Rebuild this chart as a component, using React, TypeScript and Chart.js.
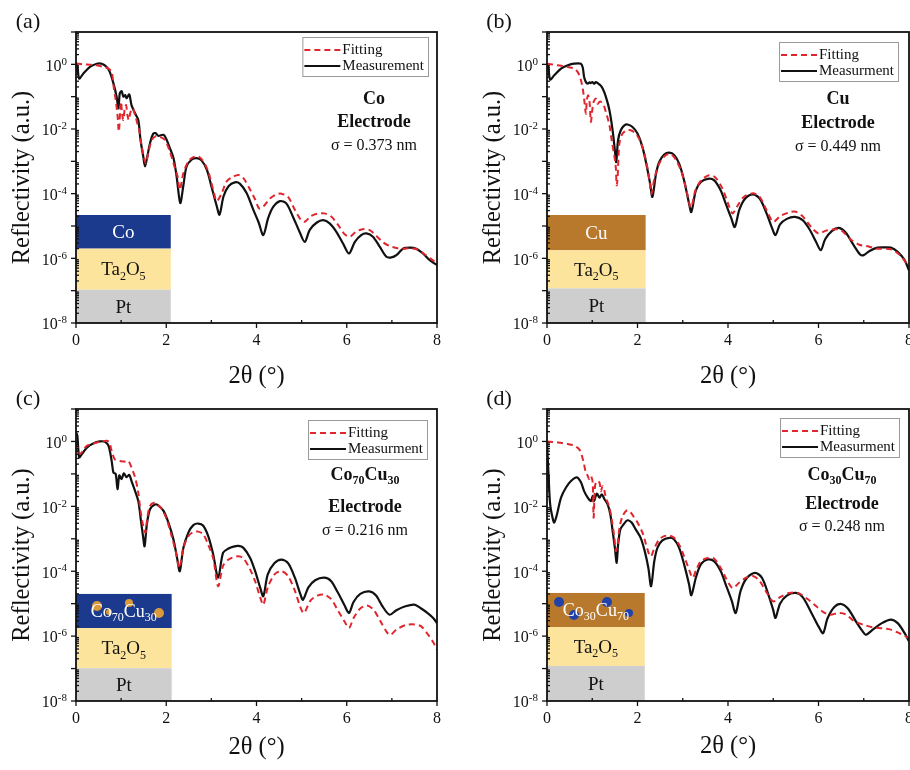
import React, { useEffect, useRef } from 'react';
import { Chart, registerables } from 'chart.js';
Chart.register(...registerables);

// ---------- DATA: [2θ (°), log10(reflectivity)] ----------
const aMeasurement: [number, number][] = [
  [0.0, 0.02], [0.03, -0.05], [0.07, -0.44], [0.16, -0.29], [0.31, -0.08], [0.46, 0.02], [0.57, 0.02],
  [0.68, -0.08], [0.75, -0.24], [0.83, -0.59], [0.9, -1.0], [0.94, -1.36], [0.97, -0.9], [1.01, -0.83],
  [1.05, -1.0], [1.09, -0.95], [1.12, -1.05], [1.18, -0.93], [1.23, -1.26], [1.31, -1.52], [1.38, -1.72],
  [1.43, -2.34], [1.49, -2.85], [1.53, -3.16], [1.58, -2.85], [1.64, -2.44], [1.71, -2.15], [1.77, -2.13],
  [1.82, -2.21], [1.94, -2.18], [2.01, -2.34], [2.08, -2.59], [2.16, -2.9], [2.23, -3.47], [2.31, -4.29],
  [2.38, -3.74], [2.45, -3.16], [2.56, -2.95], [2.67, -2.9], [2.78, -2.97], [2.9, -3.26], [3.0, -3.77],
  [3.12, -4.39], [3.18, -4.65], [3.27, -4.08], [3.38, -3.77], [3.52, -3.65], [3.63, -3.69], [3.78, -3.98],
  [3.93, -4.5], [4.05, -4.9], [4.15, -5.28], [4.26, -4.75], [4.37, -4.41], [4.52, -4.23], [4.66, -4.3],
  [4.81, -4.72], [4.96, -5.2], [5.07, -5.49], [5.18, -5.12], [5.33, -4.9], [5.48, -4.82], [5.62, -4.92],
  [5.77, -5.18], [5.92, -5.55], [6.05, -5.85], [6.18, -5.49], [6.32, -5.28], [6.44, -5.23], [6.58, -5.33],
  [6.73, -5.64], [6.88, -5.95], [6.99, -5.97], [7.1, -5.9], [7.25, -5.7], [7.4, -5.67], [7.54, -5.7],
  [7.69, -5.85], [7.84, -6.06], [8.0, -6.21],
];
const aFitting: [number, number][] = [
  [0.0, 0.03], [0.16, 0.0], [0.31, -0.01], [0.46, -0.03], [0.61, -0.08], [0.72, -0.13], [0.79, -0.24],
  [0.84, -0.75], [0.88, -1.1], [0.92, -1.57], [0.95, -2.08], [0.98, -1.42], [1.0, -1.16], [1.02, -1.52],
  [1.05, -1.72], [1.08, -1.37], [1.11, -1.26], [1.14, -1.57], [1.17, -1.72], [1.21, -1.47], [1.26, -1.36],
  [1.31, -1.57], [1.36, -1.83], [1.4, -2.03], [1.45, -2.49], [1.51, -2.9], [1.55, -3.06], [1.6, -2.75],
  [1.68, -2.34], [1.77, -2.22], [1.86, -2.24], [1.97, -2.34], [2.08, -2.7], [2.19, -3.2], [2.25, -3.46],
  [2.3, -3.88], [2.38, -3.36], [2.49, -3.0], [2.6, -2.87], [2.71, -2.85], [2.82, -3.0], [2.93, -3.31],
  [3.04, -3.88], [3.12, -4.23], [3.23, -3.98], [3.34, -3.62], [3.49, -3.47], [3.6, -3.42], [3.71, -3.52],
  [3.86, -3.88], [3.97, -4.18], [4.06, -4.46], [4.15, -4.4], [4.3, -4.15], [4.45, -4.02], [4.55, -4.0],
  [4.7, -4.1], [4.85, -4.5], [4.98, -4.8], [5.07, -4.87], [5.2, -4.7], [5.35, -4.62], [5.5, -4.61],
  [5.65, -4.7], [5.8, -4.95], [5.95, -5.25], [6.07, -5.33], [6.2, -5.18], [6.35, -5.1], [6.5, -5.12],
  [6.65, -5.3], [6.8, -5.5], [6.95, -5.62], [7.1, -5.68], [7.25, -5.7], [7.4, -5.69], [7.55, -5.72],
  [7.7, -5.85], [7.85, -6.0], [8.0, -6.16],
];

const bMeasurement: [number, number][] = [
  [0.0, 0.02], [0.03, -0.1], [0.07, -0.47], [0.16, -0.34], [0.31, -0.13], [0.46, -0.03], [0.6, 0.02],
  [0.75, 0.02], [0.79, -0.1], [0.82, -0.39], [0.86, -0.55], [0.9, -0.6], [0.94, -0.56], [0.97, -0.58],
  [1.0, -0.55], [1.04, -0.6], [1.08, -0.55], [1.12, -0.58], [1.18, -0.65], [1.23, -0.75], [1.3, -1.0],
  [1.38, -1.42], [1.45, -2.04], [1.5, -2.66], [1.53, -3.02], [1.57, -2.35], [1.63, -2.04], [1.71, -1.89],
  [1.78, -1.86], [1.89, -1.94], [2.0, -2.14], [2.11, -2.56], [2.21, -3.18], [2.28, -3.7], [2.33, -4.1],
  [2.41, -3.38], [2.48, -3.02], [2.59, -2.79], [2.7, -2.73], [2.81, -2.8], [2.92, -3.07], [3.03, -3.59],
  [3.14, -4.31], [3.19, -4.57], [3.29, -3.9], [3.4, -3.64], [3.55, -3.54], [3.69, -3.58], [3.84, -3.9],
  [3.95, -4.31], [4.07, -4.75], [4.15, -5.03], [4.25, -4.5], [4.38, -4.15], [4.55, -4.02], [4.7, -4.15],
  [4.85, -4.6], [4.97, -5.05], [5.05, -5.28], [5.15, -4.95], [5.3, -4.78], [5.48, -4.72], [5.65, -4.82],
  [5.8, -5.1], [5.95, -5.5], [6.05, -5.75], [6.15, -5.4], [6.3, -5.15], [6.45, -5.06], [6.6, -5.2],
  [6.78, -5.6], [6.92, -5.88], [7.0, -5.9], [7.12, -5.78], [7.3, -5.67], [7.45, -5.66], [7.6, -5.67],
  [7.75, -5.8], [7.9, -6.05], [8.0, -6.37],
];
const bFitting: [number, number][] = [
  [0.0, 0.02], [0.24, -0.03], [0.46, -0.08], [0.6, -0.13], [0.68, -0.24], [0.74, -0.44], [0.79, -0.75],
  [0.82, -1.06], [0.86, -1.53], [0.88, -1.11], [0.91, -0.96], [0.94, -1.16], [0.97, -1.78], [1.0, -1.42],
  [1.03, -1.16], [1.08, -1.06], [1.12, -1.22], [1.16, -1.16], [1.19, -1.16], [1.25, -1.26], [1.3, -1.47],
  [1.38, -1.88], [1.43, -2.35], [1.49, -2.85], [1.52, -3.18], [1.54, -3.74], [1.56, -3.5], [1.6, -2.45],
  [1.67, -2.14], [1.77, -2.04], [1.85, -2.04], [1.96, -2.14], [2.07, -2.4], [2.18, -2.93], [2.26, -3.55],
  [2.31, -4.01], [2.37, -3.55], [2.48, -3.07], [2.59, -2.85], [2.7, -2.77], [2.81, -2.87], [2.96, -3.28],
  [3.07, -3.82], [3.18, -4.43], [3.28, -3.9], [3.4, -3.6], [3.58, -3.43], [3.72, -3.5], [3.88, -3.85],
  [4.0, -4.3], [4.1, -4.61], [4.2, -4.4], [4.35, -4.1], [4.55, -3.99], [4.7, -4.1], [4.85, -4.5],
  [5.0, -4.87], [5.15, -4.7], [5.35, -4.58], [5.5, -4.56], [5.65, -4.7], [5.85, -5.05], [6.0, -5.23],
  [6.15, -5.15], [6.35, -5.1], [6.5, -5.13], [6.7, -5.4], [6.9, -5.58], [7.05, -5.62], [7.3, -5.7],
  [7.6, -5.72], [7.8, -5.9], [8.0, -6.26],
];

const cMeasurement: [number, number][] = [
  [0.0, 0.28], [0.03, 0.18], [0.07, -0.49], [0.13, -0.39], [0.24, -0.19], [0.38, -0.06], [0.53, 0.0],
  [0.64, -0.01], [0.72, -0.13], [0.79, -0.6], [0.83, -0.96], [0.88, -1.0], [0.92, -1.47], [0.96, -1.05],
  [1.01, -1.16], [1.06, -0.98], [1.12, -1.1], [1.18, -1.03], [1.23, -1.22], [1.31, -1.53], [1.38, -1.84],
  [1.44, -2.45], [1.49, -2.97], [1.52, -3.23], [1.57, -2.56], [1.64, -2.09], [1.75, -1.94], [1.82, -1.97],
  [1.94, -2.14], [2.05, -2.51], [2.16, -3.02], [2.24, -3.59], [2.3, -4.0], [2.38, -3.28], [2.49, -2.81],
  [2.6, -2.58], [2.71, -2.53], [2.82, -2.6], [2.93, -2.92], [3.04, -3.48], [3.15, -4.2], [3.26, -3.43],
  [3.38, -3.3], [3.49, -3.24], [3.6, -3.22], [3.71, -3.28], [3.86, -3.59], [3.97, -4.0], [4.08, -4.5],
  [4.15, -4.77], [4.25, -4.1], [4.4, -3.75], [4.55, -3.64], [4.7, -3.75], [4.85, -4.2], [4.97, -4.7],
  [5.03, -4.88], [5.15, -4.5], [5.3, -4.28], [5.5, -4.2], [5.65, -4.3], [5.8, -4.65], [5.95, -5.05],
  [6.05, -5.29], [6.15, -4.95], [6.3, -4.7], [6.5, -4.62], [6.65, -4.75], [6.8, -5.1], [6.95, -5.34],
  [7.1, -5.2], [7.3, -5.08], [7.5, -5.03], [7.65, -5.15], [7.8, -5.3], [7.92, -5.45], [8.0, -5.6],
];
const cFitting: [number, number][] = [
  [0.0, -0.03], [0.04, -0.2], [0.09, -0.39], [0.16, -0.27], [0.24, -0.13], [0.31, -0.1], [0.46, -0.03],
  [0.57, 0.0], [0.68, 0.02], [0.74, -0.03], [0.79, -0.29], [0.86, -0.55], [0.97, -0.6], [1.09, -0.62],
  [1.16, -0.6], [1.23, -0.8], [1.31, -1.11], [1.38, -1.58], [1.43, -2.14], [1.49, -2.61], [1.54, -2.81],
  [1.58, -2.35], [1.64, -1.99], [1.73, -1.89], [1.8, -1.94], [1.9, -2.08], [2.01, -2.4], [2.12, -2.92],
  [2.22, -3.45], [2.29, -3.9], [2.38, -3.28], [2.49, -2.92], [2.6, -2.79], [2.71, -2.78], [2.82, -2.86],
  [2.93, -3.18], [3.04, -3.6], [3.15, -4.46], [3.26, -3.83], [3.38, -3.64], [3.49, -3.57], [3.6, -3.54],
  [3.71, -3.6], [3.86, -3.95], [3.97, -4.31], [4.08, -4.8], [4.15, -5.03], [4.25, -4.5], [4.4, -4.1],
  [4.55, -4.0], [4.7, -4.15], [4.85, -4.6], [4.97, -5.1], [5.05, -5.29], [5.2, -4.9], [5.35, -4.75],
  [5.5, -4.72], [5.65, -4.85], [5.8, -5.2], [5.95, -5.55], [6.05, -5.75], [6.15, -5.45], [6.3, -5.15],
  [6.45, -5.06], [6.6, -5.2], [6.75, -5.55], [6.9, -5.9], [6.97, -5.96], [7.1, -5.8], [7.3, -5.66],
  [7.5, -5.64], [7.65, -5.7], [7.8, -5.95], [7.92, -6.2], [8.0, -6.42],
];

const dMeasurement: [number, number][] = [
  [0.0, 0.0], [0.03, -0.91], [0.07, -1.94], [0.13, -2.4], [0.16, -2.5], [0.22, -2.25], [0.31, -1.73],
  [0.42, -1.42], [0.53, -1.22], [0.66, -1.11], [0.75, -1.26], [0.82, -1.53], [0.9, -1.73], [0.97, -1.84],
  [1.01, -1.68], [1.04, -1.84], [1.1, -1.61], [1.16, -1.73], [1.21, -1.63], [1.27, -1.78], [1.34, -1.94],
  [1.4, -2.25], [1.45, -2.76], [1.5, -3.28], [1.54, -3.74], [1.57, -3.2], [1.62, -2.71], [1.69, -2.56],
  [1.78, -2.43], [1.87, -2.5], [1.96, -2.71], [2.07, -2.97], [2.16, -3.38], [2.24, -3.9], [2.3, -4.46],
  [2.37, -3.7], [2.44, -3.28], [2.55, -3.05], [2.7, -2.97], [2.81, -3.02], [2.92, -3.28], [3.03, -3.79],
  [3.14, -4.41], [3.19, -4.74], [3.29, -4.2], [3.4, -3.79], [3.55, -3.64], [3.69, -3.69], [3.84, -4.0],
  [3.95, -4.41], [4.08, -4.9], [4.17, -5.29], [4.28, -4.6], [4.42, -4.2], [4.6, -4.05], [4.75, -4.2],
  [4.9, -4.75], [5.0, -5.2], [5.05, -5.44], [5.15, -5.0], [5.3, -4.75], [5.5, -4.67], [5.65, -4.8],
  [5.85, -5.3], [6.0, -5.7], [6.1, -5.91], [6.2, -5.45], [6.35, -5.1], [6.5, -5.01], [6.65, -5.15],
  [6.85, -5.6], [7.0, -5.9], [7.05, -5.96], [7.2, -5.8], [7.4, -5.6], [7.6, -5.49], [7.75, -5.6],
  [7.9, -5.9], [8.0, -6.16],
];
const dFitting: [number, number][] = [
  [0.0, 0.0], [0.24, -0.03], [0.46, -0.08], [0.6, -0.13], [0.71, -0.24], [0.76, -0.39], [0.81, -0.65],
  [0.86, -0.96], [0.9, -1.06], [0.93, -1.16], [0.97, -1.06], [1.01, -1.27], [1.03, -2.35], [1.06, -1.4],
  [1.1, -1.22], [1.16, -1.27], [1.19, -1.53], [1.23, -1.37], [1.27, -1.53], [1.3, -1.73], [1.38, -2.04],
  [1.43, -2.4], [1.49, -2.97], [1.52, -3.38], [1.56, -3.18], [1.6, -2.68], [1.67, -2.3], [1.77, -2.12],
  [1.85, -2.19], [1.93, -2.35], [2.0, -2.5], [2.11, -2.81], [2.19, -3.18], [2.26, -3.49], [2.3, -3.54],
  [2.37, -3.3], [2.48, -3.02], [2.59, -2.92], [2.7, -2.9], [2.81, -2.97], [2.92, -3.18], [3.03, -3.54],
  [3.14, -3.95], [3.22, -4.2], [3.3, -3.95], [3.4, -3.69], [3.55, -3.59], [3.69, -3.61], [3.84, -3.9],
  [3.95, -4.2], [4.1, -4.52], [4.25, -4.35], [4.4, -4.2], [4.55, -4.15], [4.7, -4.3], [4.85, -4.65],
  [5.0, -4.93], [5.15, -4.8], [5.35, -4.67], [5.55, -4.67], [5.75, -4.85], [5.95, -5.08], [6.1, -5.25],
  [6.25, -5.34], [6.45, -5.29], [6.6, -5.33], [6.8, -5.55], [7.0, -5.65], [7.2, -5.73], [7.4, -5.76],
  [7.6, -5.8], [7.8, -5.92], [8.0, -6.06],
];

const yTickExponents = [0, -2, -4, -6, -8];
const sigmaValues = ['0.373', '0.449', '0.216', '0.248'];
const panelLetters = ['(a)', '(b)', '(c)', '(d)'];
// layer stack boundaries (log10) : [top, layer1/Ta2O5, Ta2O5/Pt], and right edge in 2θ
const layerBounds: [number, number, number, number][] = [
  [-4.66, -5.7, -6.97, 2.1],
  [-4.66, -5.75, -6.93, 2.18],
  [-4.7, -5.75, -6.99, 2.12],
  [-4.67, -5.72, -6.92, 2.16],
];

// ---------- STYLE ----------
const FONT = "'Liberation Serif', 'Times New Roman', Times, serif";
const W = 455;
const H = 400; // canvases overlap slightly (transparent) so the top row's x title is not clipped
const RED = '#e0262d';
const INK = '#111111';
const BLUE = '#1b3a8e';
const BROWN = '#b8792d';
const YELLOW = '#fce49c';
const GREY = '#cecece';

type Part = { t: string; sub?: boolean; sup?: boolean };

function measureRich(ctx: CanvasRenderingContext2D, parts: Part[], size: number, bold: boolean, small: number) {
  const w = bold ? 'bold ' : '';
  let total = 0;
  const widths: number[] = [];
  for (const p of parts) {
    ctx.font = `${w}${p.sub || p.sup ? Math.round(size * small) : size}px ${FONT}`;
    const m = ctx.measureText(p.t).width;
    widths.push(m);
    total += m;
  }
  return { total, widths };
}

function drawRich(
  ctx: CanvasRenderingContext2D, parts: Part[], x: number, cy: number, size: number,
  bold: boolean, color: string, align: 'center' | 'right' | 'left' = 'center', small = 0.65,
) {
  const w = bold ? 'bold ' : '';
  const { total, widths } = measureRich(ctx, parts, size, bold, small);
  let cx = align === 'center' ? x - total / 2 : align === 'right' ? x - total : x;
  const base = cy + size * 0.33;
  ctx.save();
  ctx.fillStyle = color;
  ctx.textAlign = 'left';
  ctx.textBaseline = 'alphabetic';
  parts.forEach((p, i) => {
    ctx.font = `${w}${p.sub || p.sup ? Math.round(size * small) : size}px ${FONT}`;
    const y = p.sub ? base + size * 0.22 : p.sup ? base - size * 0.38 : base;
    ctx.fillText(p.t, cx, y);
    cx += widths[i];
  });
  ctx.restore();
}

type PanelCfg = {
  idx: number;
  ox: number; oy: number;
  left: number; top: number; right: number; bottom: number;
  meas: [number, number][]; fit: [number, number][];
  measLabel: string;
  title: Part[];
  annX: number; annY: [number, number, number];
  legTop: number; legRight: number;
  topLayerColor: string; topLayerLabel: Part[];
  blobColor?: string; blobs?: [number, number, number][];
  xTitleGap: number;
};

const panels: PanelCfg[] = [
  {
    idx: 0, ox: 0, oy: 0, left: 76, top: 32, right: 437, bottom: 323,
    meas: aMeasurement, fit: aFitting, measLabel: 'Measurement',
    title: [{ t: 'Co' }], annX: 63, annY: [66, 89, 113], legTop: 5, legRight: 9,
    topLayerColor: BLUE, topLayerLabel: [{ t: 'Co' }], xTitleGap: 54,
  },
  {
    idx: 1, ox: 455, oy: 0, left: 92, top: 32, right: 454, bottom: 323,
    meas: bMeasurement, fit: bFitting, measLabel: 'Measurment',
    title: [{ t: 'Cu' }], annX: 71, annY: [66, 90, 114], legTop: 10, legRight: 11,
    topLayerColor: BROWN, topLayerLabel: [{ t: 'Cu' }], xTitleGap: 54,
  },
  {
    idx: 2, ox: 0, oy: 385, left: 76, top: 24, right: 437, bottom: 316,
    meas: cMeasurement, fit: cFitting, measLabel: 'Measurment',
    title: [{ t: 'Co' }, { t: '70', sub: true }, { t: 'Cu' }, { t: '30', sub: true }],
    annX: 72, annY: [65, 97, 121], legTop: 11, legRight: 10,
    topLayerColor: BLUE, topLayerLabel: [{ t: 'Co' }, { t: '70', sub: true }, { t: 'Cu' }, { t: '30', sub: true }],
    blobColor: '#d99a3c', blobs: [[21, 12, 5], [33, 18, 3], [53, 9, 4], [83, 19, 5]], xTitleGap: 47,
  },
  {
    idx: 3, ox: 455, oy: 385, left: 92, top: 24, right: 454, bottom: 316,
    meas: dMeasurement, fit: dFitting, measLabel: 'Measurment',
    title: [{ t: 'Co' }, { t: '30', sub: true }, { t: 'Cu' }, { t: '70', sub: true }],
    annX: 67, annY: [65, 94, 117], legTop: 9, legRight: 10,
    topLayerColor: BROWN, topLayerLabel: [{ t: 'Co' }, { t: '30', sub: true }, { t: 'Cu' }, { t: '70', sub: true }],
    blobColor: '#2342a8', blobs: [[12, 9, 5], [27, 22, 5], [60, 9, 5], [82, 20, 4]], xTitleGap: 46,
  },
];

function makePlugin(p: PanelCfg) {
  return {
    id: 'xrrDecor' + p.idx,
    beforeDatasetsDraw(chart: any) {
      const ctx: CanvasRenderingContext2D = chart.ctx;
      const xs = chart.scales.x;
      const ys = chart.scales.y;
      const [t0, t1, t2, xr] = layerBounds[p.idx];
      const x0 = xs.getPixelForValue(0);
      const x1 = xs.getPixelForValue(xr);
      const yA = ys.getPixelForValue(10 ** t0);
      const yB = ys.getPixelForValue(10 ** t1);
      const yC = ys.getPixelForValue(10 ** t2);
      const yD = ys.getPixelForValue(1e-8);
      ctx.save();
      ctx.fillStyle = p.topLayerColor;
      ctx.fillRect(x0, yA, x1 - x0, yB - yA);
      ctx.fillStyle = YELLOW;
      ctx.fillRect(x0, yB, x1 - x0, yC - yB);
      ctx.fillStyle = GREY;
      ctx.fillRect(x0, yC, x1 - x0, yD - yC);
      if (p.blobs && p.blobColor) {
        ctx.fillStyle = p.blobColor;
        for (const [bx, by, br] of p.blobs) {
          ctx.beginPath();
          ctx.arc(x0 + bx, yA + by, br, 0, Math.PI * 2);
          ctx.fill();
        }
      }
      ctx.restore();
      const cx = (x0 + x1) / 2;
      drawRich(ctx, p.topLayerLabel, cx, (yA + yB) / 2, p.blobs ? 18 : 19, false, '#ffffff', 'center', 0.68);
      drawRich(ctx, [{ t: 'Ta' }, { t: '2', sub: true }, { t: 'O' }, { t: '5', sub: true }], cx, (yB + yC) / 2, 19, false, INK);
      drawRich(ctx, [{ t: 'Pt' }], cx, (yC + yD) / 2, 19, false, INK);
    },
    afterDraw(chart: any) {
      const ctx: CanvasRenderingContext2D = chart.ctx;
      const a = chart.chartArea;
      const xs = chart.scales.x;
      const ys = chart.scales.y;
      ctx.save();
      // frame
      ctx.strokeStyle = INK;
      ctx.lineWidth = 1.8;
      ctx.strokeRect(a.left, a.top, a.right - a.left, a.bottom - a.top);
      ctx.lineWidth = 1.3;
      // x ticks: major (library ticks) outward, minor inward
      for (const t of xs.ticks) {
        const px = xs.getPixelForValue(t.value);
        ctx.beginPath(); ctx.moveTo(px, a.bottom); ctx.lineTo(px, a.bottom + 5); ctx.stroke();
        const mv = t.value + 1;
        if (mv < xs.max) {
          const pm = xs.getPixelForValue(mv);
          ctx.beginPath(); ctx.moveTo(pm, a.bottom); ctx.lineTo(pm, a.bottom - 3); ctx.stroke();
        }
      }
      // y ticks
      for (let e = -8; e <= 1; e++) {
        const py = ys.getPixelForValue(10 ** e);
        ctx.beginPath(); ctx.moveTo(a.left - 5, py); ctx.lineTo(a.left, py); ctx.stroke();
        if (e < 1) {
          for (let k = 2; k <= 9; k++) {
            const pm = ys.getPixelForValue(k * 10 ** e);
            ctx.beginPath(); ctx.moveTo(a.left, pm); ctx.lineTo(a.left + 3, pm); ctx.stroke();
          }
        }
      }
      ctx.restore();
      // y tick labels with superscript exponents
      for (const e of yTickExponents) {
        const py = ys.getPixelForValue(10 ** e);
        drawRich(ctx, [{ t: '10' }, { t: e === 0 ? '0' : '-' + Math.abs(e), sup: true }], a.left - 9, py + 1, 16, false, INK, 'right', 0.7);
      }
      // axis titles
      ctx.save();
      ctx.fillStyle = INK;
      ctx.font = `24.5px ${FONT}`;
      ctx.textAlign = 'center';
      ctx.textBaseline = 'middle';
      ctx.fillText('2θ (°)', (a.left + a.right) / 2, a.bottom + p.xTitleGap);
      ctx.translate(a.left - 53, (a.top + a.bottom) / 2);
      ctx.rotate(-Math.PI / 2);
      ctx.fillText('Reflectivity (a.u.)', 0, 0);
      ctx.restore();
      // panel letter
      ctx.save();
      ctx.fillStyle = INK;
      ctx.font = `22px ${FONT}`;
      ctx.textAlign = 'center';
      ctx.textBaseline = 'middle';
      ctx.fillText(panelLetters[p.idx], a.left - 48, a.top - 10);
      ctx.restore();
      // legend
      ctx.save();
      ctx.font = `15px ${FONT}`;
      const tw = Math.max(ctx.measureText('Fitting').width, ctx.measureText(p.measLabel).width);
      const bw = 40 + tw + 4;
      const bx = a.right - p.legRight - bw;
      const by = a.top + p.legTop;
      ctx.fillStyle = '#ffffff';
      ctx.fillRect(bx, by, bw, 39);
      ctx.strokeStyle = '#9a9a9a';
      ctx.lineWidth = 1;
      ctx.strokeRect(bx + 0.5, by + 0.5, bw, 39);
      const r1 = by + 13;
      const r2 = by + 29;
      ctx.lineWidth = 2;
      ctx.strokeStyle = RED;
      ctx.setLineDash([6, 4]);
      ctx.beginPath(); ctx.moveTo(bx + 2, r1); ctx.lineTo(bx + 38, r1); ctx.stroke();
      ctx.setLineDash([]);
      ctx.strokeStyle = INK;
      ctx.beginPath(); ctx.moveTo(bx + 2, r2); ctx.lineTo(bx + 38, r2); ctx.stroke();
      ctx.fillStyle = INK;
      ctx.textAlign = 'left';
      ctx.textBaseline = 'middle';
      ctx.fillText('Fitting', bx + 40, r1);
      ctx.fillText(p.measLabel, bx + 40, r2);
      ctx.restore();
      // annotation
      const ax = a.right - p.annX;
      drawRich(ctx, p.title, ax, a.top + p.annY[0], 18, true, INK, 'center', 0.68);
      drawRich(ctx, [{ t: 'Electrode' }], ax, a.top + p.annY[1], 18, true, INK);
      drawRich(ctx, [{ t: `σ = ${sigmaValues[p.idx]} nm` }], ax, a.top + p.annY[2], 16, false, INK);
    },
  };
}

function PanelChart({ p }: { p: PanelCfg }) {
  const ref = useRef<HTMLCanvasElement | null>(null);
  useEffect(() => {
    const canvas = ref.current;
    if (!canvas) return;
    const toPts = (arr: [number, number][]) => arr.map(([x, l]) => ({ x, y: 10 ** l }));
    const chart = new Chart(canvas, {
      type: 'line',
      data: {
        datasets: [
          {
            label: 'Fitting', data: toPts(p.fit), borderColor: RED, borderWidth: 2,
            borderDash: [6, 4], pointRadius: 0, tension: 0.3, fill: false,
          },
          {
            label: p.measLabel, data: toPts(p.meas), borderColor: INK, borderWidth: 2.2,
            pointRadius: 0, tension: 0.3, fill: false,
          },
        ],
      },
      options: {
        responsive: false,
        animation: false,
        devicePixelRatio: 1,
        layout: { padding: { left: 0, top: p.top, right: W - p.right, bottom: 0 } },
        plugins: { legend: { display: false }, tooltip: { enabled: false }, title: { display: false } },
        scales: {
          x: {
            type: 'linear', min: 0, max: 8, position: 'bottom',
            ticks: { stepSize: 2, color: INK, font: { family: FONT, size: 16 }, padding: 8, maxRotation: 0, autoSkip: false },
            grid: { display: false, drawTicks: false },
            border: { display: false },
            afterFit: (s: any) => { s.height = H - p.bottom; s.paddingLeft = 0; s.paddingRight = 0; },
          },
          y: {
            type: 'logarithmic', min: 1e-8, max: 10, position: 'left',
            ticks: { display: false },
            grid: { display: false, drawTicks: false },
            border: { display: false },
            afterFit: (s: any) => { s.width = p.left; s.paddingTop = 0; s.paddingBottom = 0; },
          },
        },
      } as any,
      plugins: [makePlugin(p)],
    });
    return () => chart.destroy();
  }, [p]);
  return (
    <canvas
      ref={ref}
      width={W}
      height={H}
      style={{ position: 'absolute', left: p.ox, top: p.oy, width: W, height: H }}
    />
  );
}

export default function App() {
  useEffect(() => {
    document.body.style.margin = '0';
    document.body.style.background = '#ffffff';
  }, []);
  return (
    <div style={{ position: 'relative', width: 910, height: 770, background: '#ffffff', overflow: 'hidden' }}>
      {panels.map((p) => (
        <PanelChart key={p.idx} p={p} />
      ))}
    </div>
  );
}
